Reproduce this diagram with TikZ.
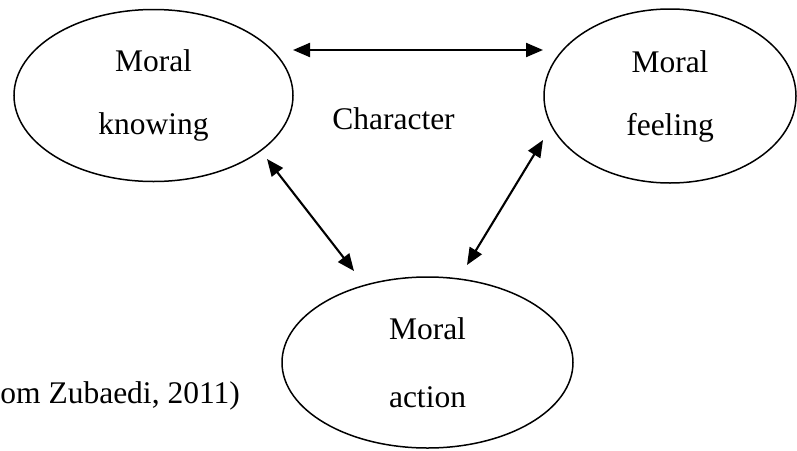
\documentclass[tikz,border=0pt]{standalone}
\usepackage{fontspec}
\setmainfont{Liberation Serif}
\usetikzlibrary{shapes.geometric,arrows.meta}

\tikzset{
    moral/.style={draw, black, ellipse, line width=1.5pt, inner sep=0pt, align=center,
        font=\fontsize{31.5}{63}\selectfont},
    plain/.style={inner sep=0pt, font=\fontsize{31.5}{38}\selectfont},
    link/.style={{Triangle[length=17pt,width=14pt]}-{Triangle[length=17pt,width=14pt]}, line width=2.1pt}
}

\begin{document}
\begin{tikzpicture}[x=1pt,y=-1pt]
    \useasboundingbox (0,0) rectangle (797,450);
    % the three ellipses
    \node [moral, minimum width=279, minimum height=172] (know) at (153.5,95.5) {Moral\\knowing};
    \node [moral, minimum width=252, minimum height=174] (feel) at (670,96) {Moral\\feeling};
    \node [moral, minimum width=291, minimum height=171] (act) at (427.5,362.5) {Moral\\[5pt]action};
    % texts
    \node [plain, anchor=base] (char) at (393.5,129) {Character};
    \node [plain, anchor=base east] (src) at (240,403) {om Zubaedi, 2011)};
    % two-headed arrows
    \draw [link] ([shift={(139.5,-45.5)}]know.center) -- ([shift={(-127,-46)}]feel.center);
    \draw [link] ([shift={(113.5,63.5)}]know.center) -- ([shift={(-73.5,-91.5)}]act.center);
    \draw [link] ([shift={(-127,44)}]feel.center) -- ([shift={(39.5,-97.5)}]act.center);
\end{tikzpicture}
\end{document}
